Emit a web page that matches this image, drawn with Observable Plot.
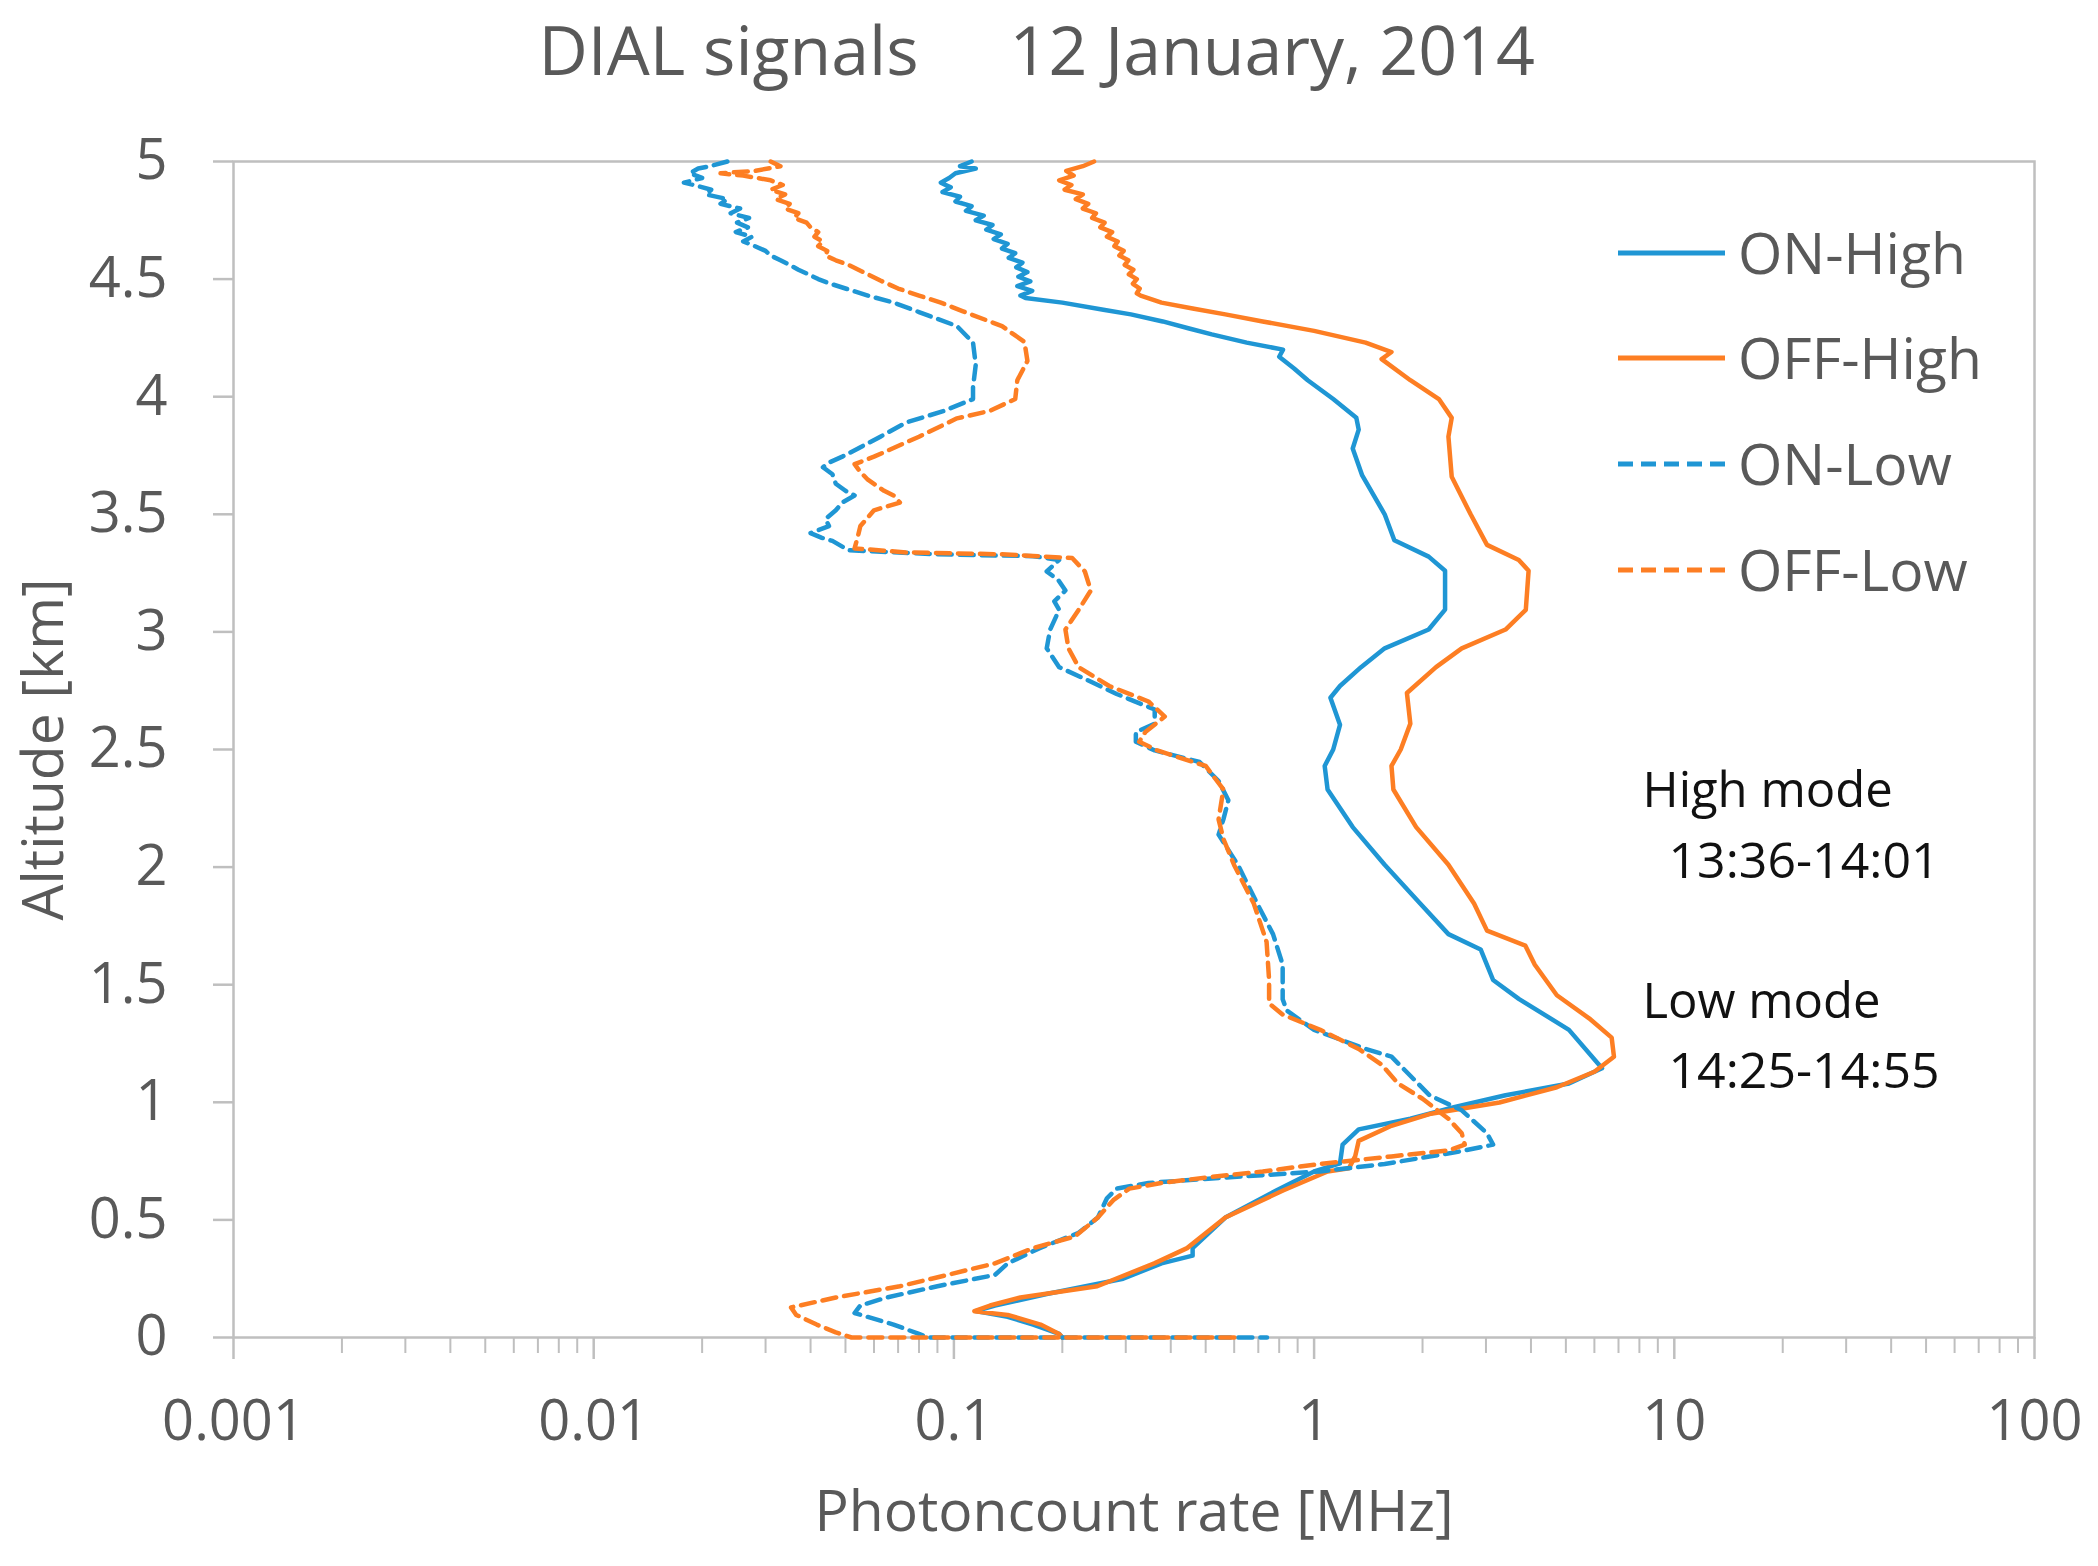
<!DOCTYPE html>
<html>
<head>
<meta charset="utf-8">
<script src="https://cdn.jsdelivr.net/npm/d3@7"></script>
<script src="https://cdn.jsdelivr.net/npm/@observablehq/plot@0.6"></script>
<style>
  html, body { margin: 0; padding: 0; background: #fff; }
  #wrap { position: relative; width: 2098px; height: 1566px; }
  #legend { position: absolute; left: 0; top: 0; pointer-events: none; }
</style>
</head>
<body>
<div id="wrap"></div>
<script>
// ---- tick labels / categories ----
const yTicks = [0, 0.5, 1, 1.5, 2, 2.5, 3, 3.5, 4, 4.5, 5];
const xMajorTicks = [0.001, 0.01, 0.1, 1, 10, 100];
const xMinorTicks = [0.002,0.003,0.004,0.005,0.006,0.007,0.008,0.009,
  0.02,0.03,0.04,0.05,0.06,0.07,0.08,0.09,
  0.2,0.3,0.4,0.5,0.6,0.7,0.8,0.9,
  2,3,4,5,6,7,8,9, 20,30,40,50,60,70,80,90];
const seriesNames = ["ON-High", "OFF-High", "ON-Low", "OFF-Low"];
const seriesColors = ["#1f96d4", "#fd7e23", "#1f96d4", "#fd7e23"];
const seriesDashed = [false, false, true, true];

// ---- series: [altitude km, photoncount rate MHz] ----
const onHigh = [[5.00,0.112],[4.98,0.104],[4.97,0.115],[4.95,0.101],[4.93,0.097],[4.91,0.092],[4.89,0.098],[4.87,0.093],[4.85,0.104],[4.83,0.101],[4.81,0.112],[4.79,0.108],[4.77,0.121],[4.75,0.115],[4.73,0.128],[4.71,0.123],[4.69,0.135],[4.67,0.129],[4.65,0.141],[4.63,0.136],[4.61,0.148],[4.59,0.142],[4.57,0.155],[4.55,0.149],[4.53,0.160],[4.51,0.151],[4.49,0.163],[4.47,0.150],[4.45,0.165],[4.43,0.153],[4.42,0.158],[4.40,0.20],[4.37,0.26],[4.35,0.31],[4.32,0.38],[4.29,0.45],[4.265,0.52],[4.23,0.65],[4.20,0.82],[4.17,0.80],[4.12,0.88],[4.07,0.96],[3.99,1.13],[3.91,1.31],[3.86,1.33],[3.78,1.28],[3.665,1.36],[3.50,1.57],[3.39,1.67],[3.32,2.08],[3.26,2.31],[3.095,2.31],[3.01,2.08],[2.93,1.57],[2.85,1.35],[2.77,1.18],[2.72,1.11],[2.605,1.18],[2.50,1.13],[2.43,1.07],[2.33,1.09],[2.17,1.28],[2.01,1.57],[1.845,1.97],[1.715,2.36],[1.65,2.90],[1.52,3.14],[1.44,3.70],[1.308,5.1],[1.145,6.3],[1.08,5.1],[1.03,3.4],[0.98,2.46],[0.93,1.85],[0.885,1.33],[0.82,1.20],[0.74,1.18],[0.706,1.0],[0.625,0.785],[0.51,0.567],[0.38,0.46],[0.348,0.46],[0.315,0.377],[0.25,0.295],[0.185,0.181],[0.136,0.130],[0.112,0.115],[0.088,0.141],[0.055,0.166],[0.015,0.196],[0.0,0.20]];

const offHigh = [[5.00,0.245],[4.98,0.228],[4.96,0.205],[4.94,0.215],[4.92,0.196],[4.90,0.212],[4.88,0.203],[4.86,0.228],[4.84,0.218],[4.82,0.236],[4.80,0.228],[4.78,0.248],[4.76,0.242],[4.74,0.262],[4.72,0.255],[4.70,0.275],[4.68,0.266],[4.66,0.285],[4.64,0.279],[4.62,0.296],[4.60,0.288],[4.58,0.305],[4.56,0.298],[4.54,0.315],[4.52,0.306],[4.50,0.322],[4.48,0.314],[4.46,0.328],[4.44,0.322],[4.43,0.330],[4.40,0.377],[4.375,0.46],[4.35,0.567],[4.32,0.72],[4.28,1.0],[4.23,1.39],[4.19,1.64],[4.16,1.54],[4.07,1.85],[3.99,2.22],[3.91,2.41],[3.83,2.36],[3.66,2.41],[3.50,2.72],[3.37,3.02],[3.306,3.70],[3.26,3.94],[3.094,3.87],[3.01,3.4],[2.93,2.57],[2.85,2.18],[2.74,1.81],[2.61,1.85],[2.50,1.74],[2.43,1.64],[2.33,1.66],[2.17,1.92],[2.01,2.36],[1.845,2.78],[1.73,3.02],[1.666,3.86],[1.585,4.1],[1.455,4.72],[1.357,5.8],[1.275,6.7],[1.194,6.8],[1.13,6.0],[1.064,4.72],[0.999,3.27],[0.95,2.09],[0.90,1.64],[0.836,1.33],[0.77,1.30],[0.72,1.25],[0.706,1.09],[0.625,0.82],[0.51,0.567],[0.38,0.444],[0.315,0.36],[0.218,0.25],[0.17,0.153],[0.136,0.126],[0.112,0.114],[0.096,0.141],[0.055,0.174],[0.015,0.196],[0.0,0.20]];

const onLow = [[5.00,0.0235],[4.98,0.021],[4.97,0.0195],[4.95,0.0185],[4.93,0.0200],[4.91,0.0178],[4.90,0.0190],[4.88,0.0212],[4.86,0.0205],[4.84,0.0235],[4.82,0.0225],[4.80,0.0255],[4.78,0.0240],[4.76,0.0270],[4.74,0.0250],[4.72,0.0268],[4.70,0.0248],[4.68,0.0275],[4.66,0.0260],[4.64,0.0280],[4.62,0.0300],[4.60,0.0310],[4.58,0.0330],[4.56,0.0350],[4.54,0.0370],[4.52,0.0395],[4.50,0.0420],[4.48,0.0455],[4.46,0.050],[4.43,0.0577],[4.40,0.068],[4.36,0.080],[4.30,0.102],[4.23,0.113],[4.136,0.115],[4.04,0.113],[3.99,0.113],[3.94,0.094],[3.89,0.0736],[3.83,0.0625],[3.745,0.049],[3.72,0.045],[3.70,0.0433],[3.67,0.046],[3.63,0.047],[3.60,0.050],[3.58,0.053],[3.55,0.049],[3.517,0.047],[3.48,0.044],[3.45,0.045],[3.42,0.040],[3.40,0.043],[3.387,0.046],[3.347,0.051],[3.33,0.090],[3.322,0.166],[3.306,0.196],[3.257,0.181],[3.22,0.195],[3.176,0.204],[3.13,0.19],[3.094,0.196],[3.01,0.185],[2.93,0.181],[2.85,0.196],[2.80,0.231],[2.736,0.283],[2.67,0.361],[2.61,0.361],[2.574,0.32],[2.533,0.32],[2.496,0.361],[2.447,0.481],[2.366,0.543],[2.284,0.578],[2.203,0.56],[2.138,0.543],[2.008,0.615],[1.845,0.695],[1.715,0.769],[1.585,0.818],[1.438,0.818],[1.39,0.84],[1.308,1.0],[1.227,1.39],[1.194,1.64],[1.113,1.85],[1.03,2.09],[0.966,2.57],[0.868,3.02],[0.82,3.14],[0.787,2.46],[0.738,1.57],[0.706,1.04],[0.68,0.567],[0.657,0.347],[0.633,0.283],[0.592,0.266],[0.51,0.251],[0.445,0.222],[0.38,0.173],[0.315,0.141],[0.266,0.130],[0.218,0.090],[0.17,0.065],[0.136,0.055],[0.104,0.053],[0.055,0.068],[0.015,0.080],[0.0,0.085],[0.0,0.74]];

const offLow = [[5.00,0.031],[4.98,0.033],[4.96,0.028],[4.95,0.0225],[4.94,0.026],[4.92,0.031],[4.90,0.0335],[4.88,0.031],[4.86,0.034],[4.84,0.032],[4.82,0.035],[4.80,0.034],[4.78,0.037],[4.76,0.036],[4.74,0.039],[4.72,0.040],[4.70,0.042],[4.68,0.041],[4.66,0.0433],[4.64,0.042],[4.62,0.0445],[4.60,0.044],[4.58,0.047],[4.56,0.051],[4.53,0.056],[4.494,0.0625],[4.46,0.070],[4.43,0.080],[4.40,0.092],[4.363,0.106],[4.30,0.136],[4.233,0.157],[4.152,0.16],[4.07,0.150],[3.99,0.148],[3.94,0.126],[3.908,0.102],[3.83,0.080],[3.745,0.060],[3.713,0.053],[3.68,0.055],[3.647,0.0577],[3.60,0.064],[3.58,0.068],[3.55,0.0708],[3.517,0.060],[3.45,0.055],[3.40,0.054],[3.355,0.053],[3.338,0.0736],[3.33,0.136],[3.314,0.213],[3.257,0.231],[3.176,0.24],[3.094,0.222],[3.01,0.204],[2.93,0.208],[2.85,0.222],[2.77,0.27],[2.704,0.347],[2.64,0.385],[2.574,0.34],[2.533,0.327],[2.496,0.367],[2.43,0.50],[2.33,0.56],[2.203,0.543],[2.12,0.56],[2.008,0.60],[1.845,0.68],[1.682,0.738],[1.52,0.75],[1.42,0.75],[1.373,0.818],[1.308,1.04],[1.227,1.33],[1.16,1.54],[1.08,1.71],[1.015,2.0],[0.93,2.36],[0.868,2.57],[0.82,2.62],[0.795,2.36],[0.77,1.64],[0.738,1.04],[0.706,0.72],[0.68,0.50],[0.657,0.377],[0.633,0.307],[0.584,0.277],[0.51,0.251],[0.43,0.217],[0.38,0.166],[0.315,0.130],[0.25,0.0867],[0.218,0.0708],[0.17,0.047],[0.128,0.0353],[0.096,0.0365],[0.055,0.0416],[0.022,0.047],[0.0,0.052],[0.0,0.62]];

const seriesData = [onHigh, offHigh, onLow, offLow];

const titleLeft = "DIAL signals";
const titleRight = "12 January, 2014";
const xTitle = "Photoncount rate [MHz]";
const yTitle = "Altitude [km]";
const notes = ["High mode", "13:36-14:01", "Low mode", "14:25-14:55"];

// ---- styles ----
const GREY = "#595959", AXIS = "#bfbfbf", FONT = "Open Sans";
const LW = 4.5, DASH = "14,8";

const lineMarks = seriesData.map((data, i) =>
  Plot.line(data, {
    x: d => d[1], y: d => d[0],
    stroke: seriesColors[i], strokeWidth: LW,
    strokeDasharray: seriesDashed[i] ? DASH : null,
    strokeLinejoin: "round", curve: "linear"
  })
);

const chart = Plot.plot({
  width: 2098, height: 1566,
  marginTop: 161, marginLeft: 233, marginRight: 64, marginBottom: 229,
  style: { fontFamily: FONT, fontSize: "56px", background: "#fff", color: GREY },
  x: { type: "log", domain: [0.001, 100] },
  y: { domain: [0, 5] },
  marks: [
    Plot.frame({ stroke: AXIS, strokeWidth: 2.5 }),
    Plot.axisY({ ticks: yTicks, tickSize: 20, tickPadding: 46, tickFormat: d => String(d),
      fontSize: 56, stroke: AXIS, strokeWidth: 2.5, fill: GREY, label: null }),
    Plot.axisX({ ticks: xMinorTicks, tickSize: 16, fill: "none", stroke: AXIS, strokeWidth: 2, label: null }),
    Plot.axisX({ ticks: xMajorTicks, tickSize: 22, tickPadding: 41, tickFormat: d => String(d),
      fontSize: 56, stroke: AXIS, strokeWidth: 2.5, fill: GREY, label: null }),
    ...lineMarks,
    Plot.text([titleLeft], { frameAnchor: "top-left", dx: 305, dy: -135, textAnchor: "start", lineAnchor: "top", fontSize: 68, fill: GREY }),
    Plot.text([titleRight], { frameAnchor: "top-left", dx: 776, dy: -135, textAnchor: "start", lineAnchor: "top", fontSize: 68, fill: GREY }),
    Plot.text([xTitle], { frameAnchor: "bottom", dy: 175, textAnchor: "middle", lineAnchor: "middle", fontSize: 57, fill: GREY }),
    Plot.text([yTitle], { frameAnchor: "left", dx: -189, rotate: -90, textAnchor: "middle", lineAnchor: "middle", fontSize: 57, fill: GREY }),
    Plot.text([notes[0]], { frameAnchor: "top-left", dx: 1409, dy: 611, textAnchor: "start", lineAnchor: "top", fontSize: 49, fill: "#111" }),
    Plot.text([notes[1]], { frameAnchor: "top-left", dx: 1435, dy: 681, textAnchor: "start", lineAnchor: "top", fontSize: 50, fill: "#111" }),
    Plot.text([notes[2]], { frameAnchor: "top-left", dx: 1409, dy: 822, textAnchor: "start", lineAnchor: "top", fontSize: 49, fill: "#111" }),
    Plot.text([notes[3]], { frameAnchor: "top-left", dx: 1435, dy: 891, textAnchor: "start", lineAnchor: "top", fontSize: 50, fill: "#111" })
  ]
});
const wrap = document.getElementById("wrap");
wrap.appendChild(chart);

// ---- legend (overlay) ----
const ns = "http://www.w3.org/2000/svg";
const leg = document.createElementNS(ns, "svg");
leg.setAttribute("id", "legend");
leg.setAttribute("width", 2098);
leg.setAttribute("height", 1566);
const rowY = [253, 358, 464, 570];
seriesNames.forEach((name, i) => {
  const ln = document.createElementNS(ns, "line");
  ln.setAttribute("x1", 1618); ln.setAttribute("x2", 1725);
  ln.setAttribute("y1", rowY[i]); ln.setAttribute("y2", rowY[i]);
  ln.setAttribute("stroke", seriesColors[i]);
  ln.setAttribute("stroke-width", 5);
  if (seriesDashed[i]) ln.setAttribute("stroke-dasharray", "15,8");
  leg.appendChild(ln);
  const tx = document.createElementNS(ns, "text");
  tx.setAttribute("x", 1738); tx.setAttribute("y", rowY[i] + 21);
  tx.setAttribute("fill", GREY);
  tx.setAttribute("font-family", FONT);
  tx.setAttribute("font-size", 57);
  tx.textContent = name;
  leg.appendChild(tx);
});
wrap.appendChild(leg);
</script>
</body>
</html>
